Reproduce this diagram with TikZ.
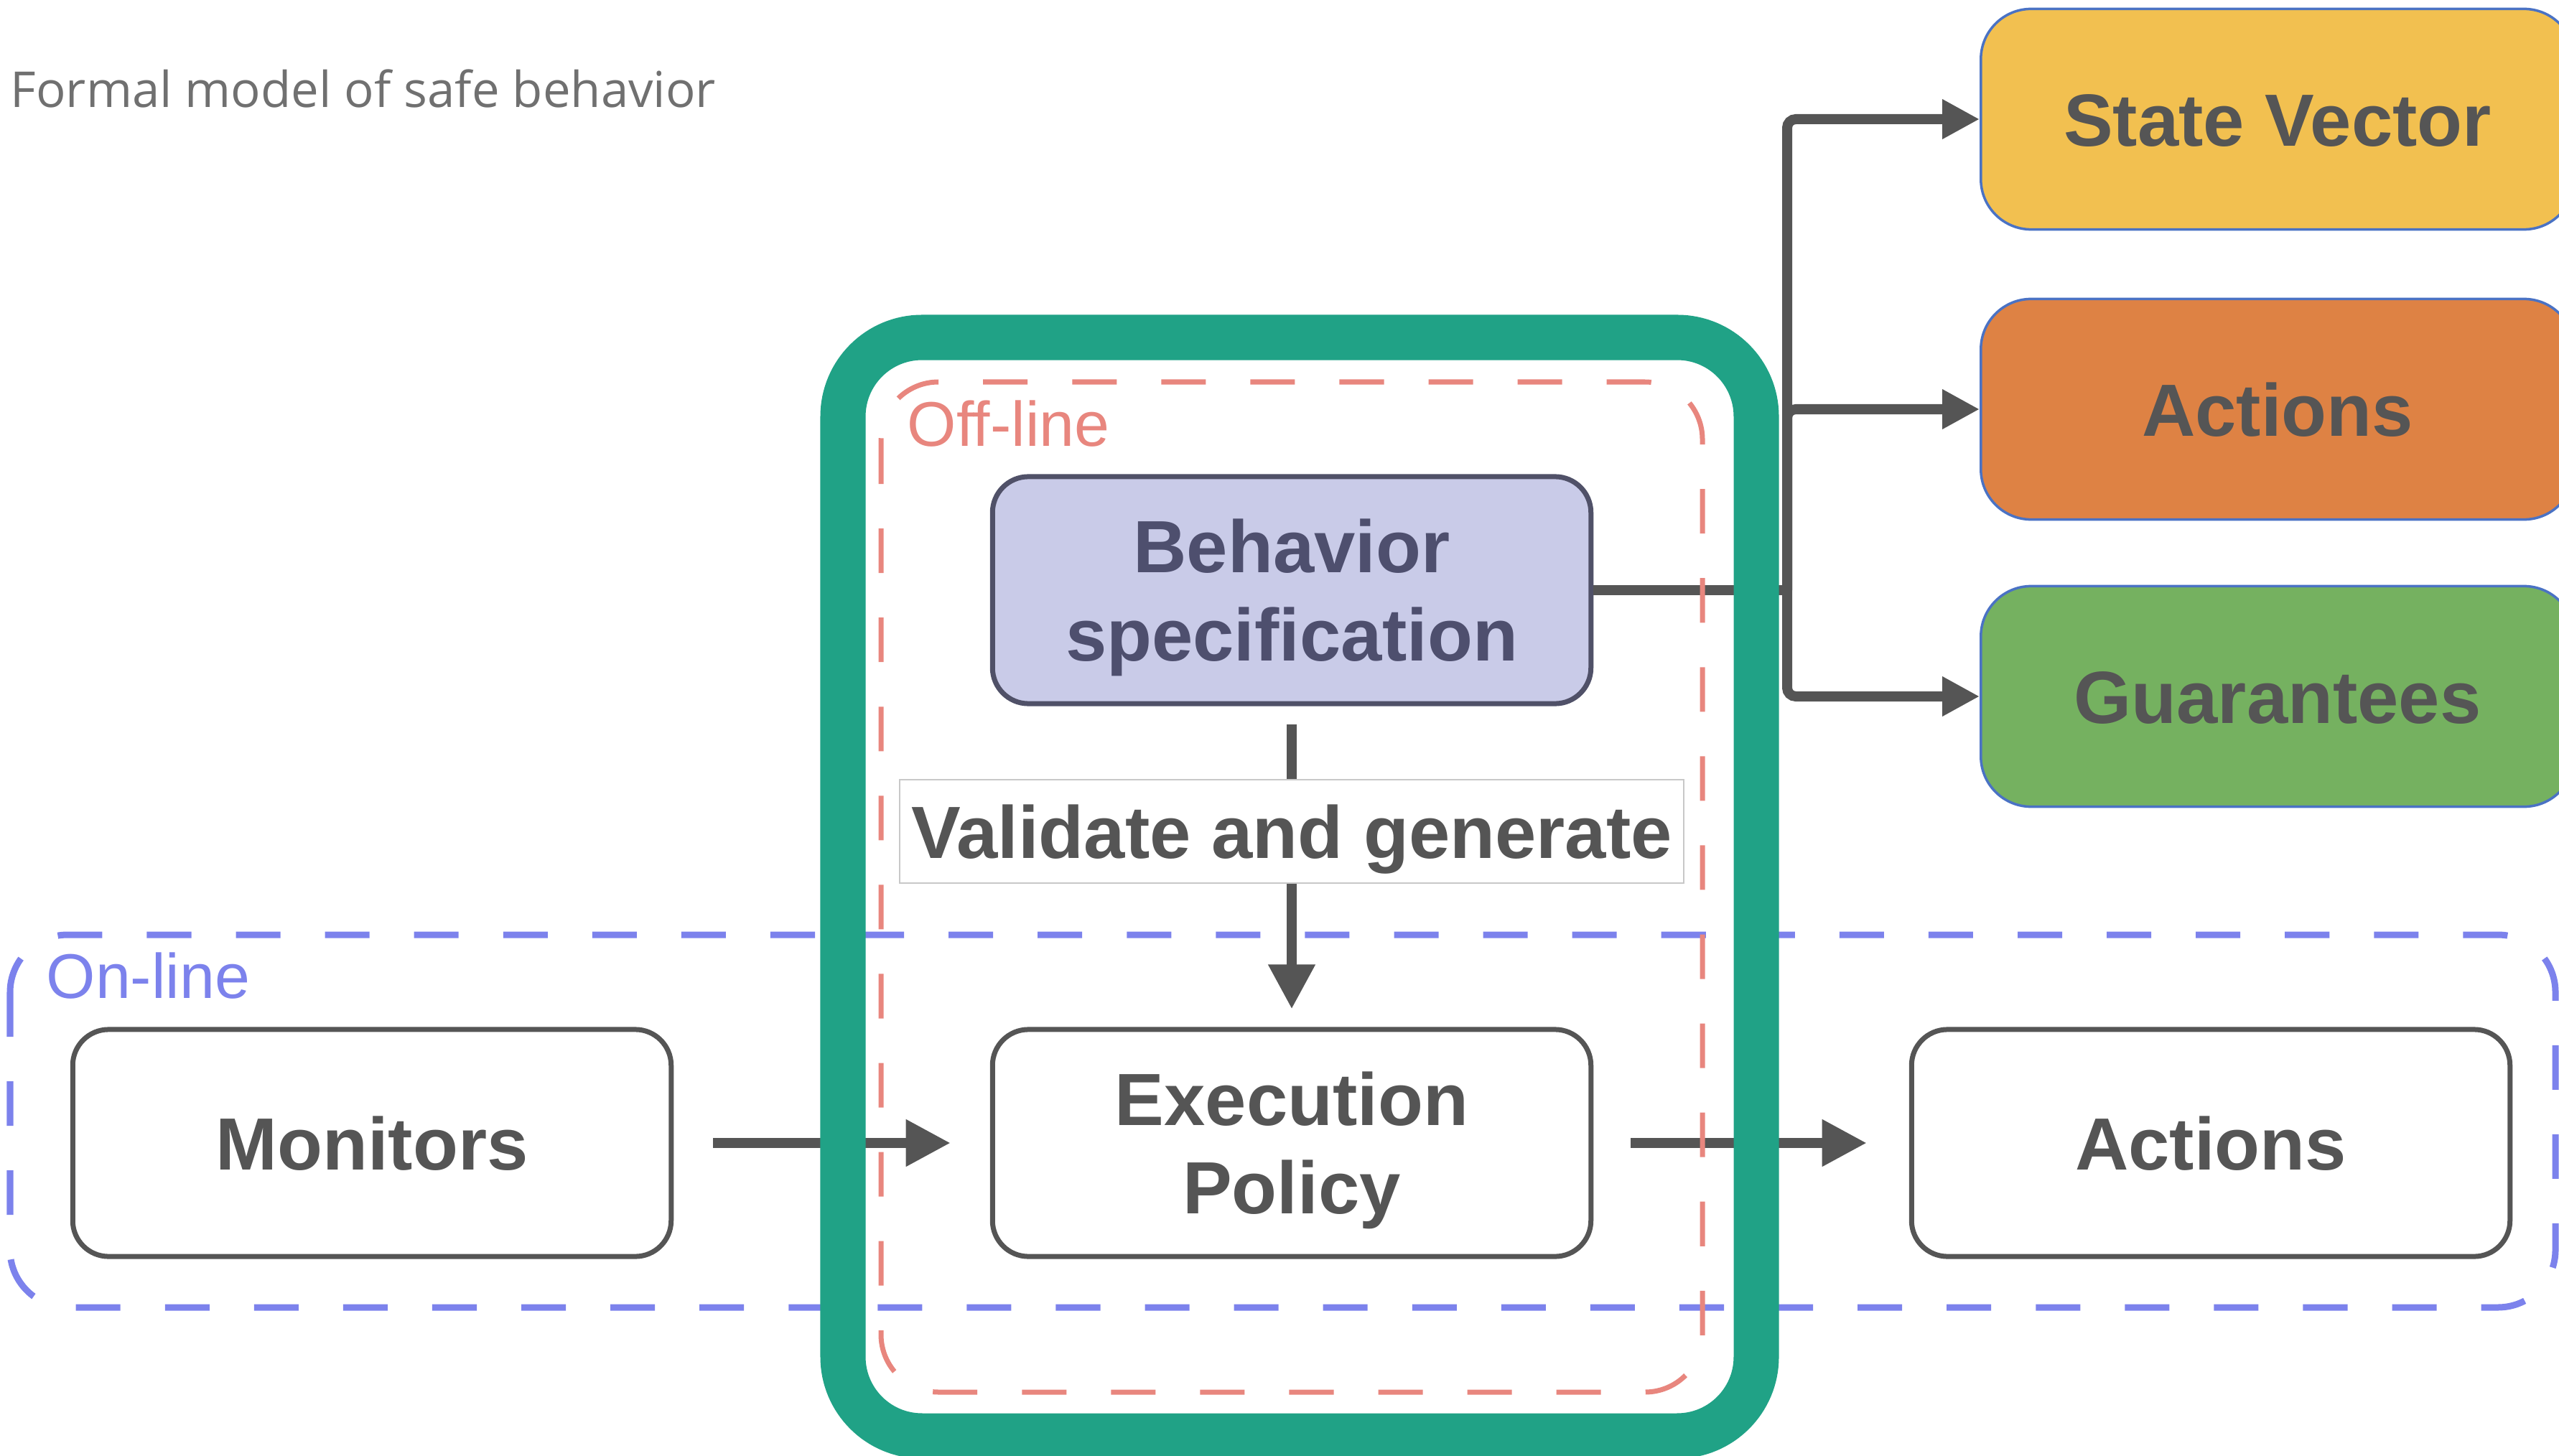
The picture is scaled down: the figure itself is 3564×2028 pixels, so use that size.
\documentclass[tikz,border=0pt]{standalone}
\usepackage{fontspec}
\setmainfont{Liberation Sans}
\newfontfamily\titlefont{Open Sans}
\usetikzlibrary{arrows.meta}

\begin{document}
\begin{tikzpicture}[x=0.01cm, y=-0.01cm,
    every node/.style={inner sep=0pt},
    box/.style={draw=boxline, line width=0.07cm, rounded corners=0.5cm,
      fill=white, minimum width=8.33cm, minimum height=3.16cm, align=center,
      text=labeltext, font=\bfseries\fontsize{29.3}{35}\selectfont},
    oneline/.style={text height=0.74cm, text depth=0pt},
    twoline/.style={text height=1.97cm, text depth=0pt},
    outbox/.style={box, oneline, draw=edgeblue, line width=0.035cm,
      rounded corners=0.7cm, minimum width=8.26cm, minimum height=3.07cm},
    flow/.style={draw=linegray, line width=0.14cm,
      -{Triangle[length=0.62cm, width=0.62cm]}},
    branch/.style={flow, rounded corners=0.12cm,
      -{Triangle[length=0.52cm, width=0.52cm]}},
    zone/.style={dash pattern=on 0.62cm off 0.62cm, rounded corners=0.8cm},
  ]
        \definecolor{boxline}{RGB}{85,85,85}
        \definecolor{labeltext}{RGB}{85,85,85}
        \definecolor{linegray}{RGB}{85,85,85}
        \definecolor{specfill}{RGB}{201,203,232}
        \definecolor{specline}{RGB}{80,81,104}
        \definecolor{spectext}{RGB}{78,79,110}
        \definecolor{validline}{RGB}{200,200,200}
        \definecolor{edgeblue}{RGB}{74,114,196}
        \definecolor{svfill}{RGB}{242,192,80}
        \definecolor{actfill}{RGB}{222,130,68}
        \definecolor{guarfill}{RGB}{117,177,96}
        \definecolor{online}{RGB}{124,130,236}
        \definecolor{offline}{RGB}{232,134,126}
        \definecolor{band}{RGB}{32,162,134}
        \definecolor{titlegray}{RGB}{112,112,112}

        \useasboundingbox (0,0) rectangle (3564,2028);

        \node[anchor=base west, text=titlegray,
          font=\titlefont\fontsize{19.6}{24}\selectfont] (title) at (14,150)
          {Formal model of safe behavior};

        % blocks
        \node[box, twoline, fill=specfill, draw=specline, text=spectext] (spec) at (1799,822)
          {Behavior\\specification};
        \node[oneline, draw=validline, line width=0.02cm, fill=white,
          minimum width=10.91cm, minimum height=1.44cm, text=labeltext,
          font=\bfseries\fontsize{29.3}{35}\selectfont] (valid) at (1799,1158)
          {Validate and generate};
        \node[box, twoline] (exec) at (1799,1592) {Execution\\Policy};
        \node[box, oneline] (mon) at (518,1592) {Monitors};
        \node[box, oneline] (out) at (3079,1592) {Actions};

        \node[outbox, fill=svfill] (sv) at (3172,166) {State Vector};
        \node[outbox, fill=actfill] (act) at (3172,570) {Actions};
        \node[outbox, fill=guarfill] (guar) at (3172,970) {Guarantees};

        % connectors
        \coordinate (fork) at (2489,822);
        \draw[flow, -] (spec.east) -- (fork);
        \foreach \target in {sv, act, guar}
          \draw[branch] (fork) |- (\target.west);
        \draw[flow, -, shorten <=0.25cm] (spec.south) -- (valid.north);
        \draw[flow, shorten >=0.25cm] (valid.south) -- (exec.north);
        \draw[flow, shorten <=0.55cm, shorten >=0.55cm] (mon.east) -- (exec.west);
        \draw[flow, shorten <=0.52cm, shorten >=0.59cm] (exec.east) -- (out.west);

        % on-line / off-line regions
        \draw[zone, draw=online, line width=0.09cm] (14,1302) rectangle (3559,1821);
        \node[anchor=base west, text=online, font=\fontsize{25}{30}\selectfont]
          (onlinelbl) at (64,1390) {On-line};
        \draw[zone, draw=offline, line width=0.07cm] (1227,532) rectangle (2371,1939);
        \node[anchor=base west, text=offline, font=\fontsize{25}{30}\selectfont]
          (offlinelbl) at (1263,622) {Off-line};

        \draw[band, line width=0.63cm, rounded corners=1.1cm] (1174,470) rectangle (2446,2000);
\end{tikzpicture}
\end{document}
